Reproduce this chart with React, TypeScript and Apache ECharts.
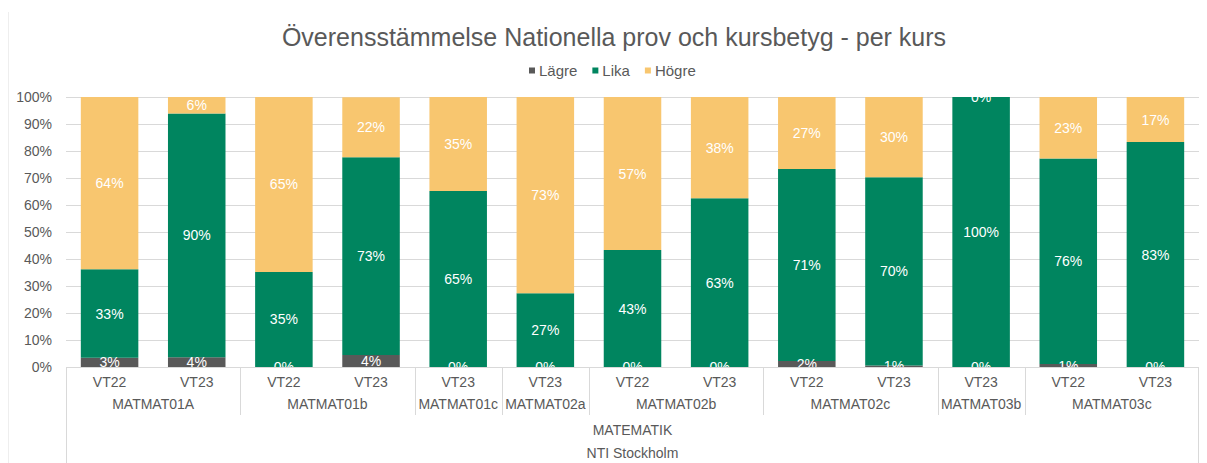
import React, { useEffect, useRef } from 'react';
import * as echarts from 'echarts';

const periods = ['VT22', 'VT23', 'VT22', 'VT23', 'VT23', 'VT23', 'VT22', 'VT23', 'VT22', 'VT23', 'VT23', 'VT22', 'VT23'];
const courses = ['MATMAT01A', 'MATMAT01A', 'MATMAT01b', 'MATMAT01b', 'MATMAT01c', 'MATMAT02a', 'MATMAT02b', 'MATMAT02b', 'MATMAT02c', 'MATMAT02c', 'MATMAT03b', 'MATMAT03c', 'MATMAT03c'];
const subjectLabel = 'MATEMATIK';
const schoolLabel = 'NTI Stockholm';
const titleText = 'Överensstämmelse Nationella prov och kursbetyg - per kurs';
const seriesNames = ['Lägre', 'Lika', 'Högre'];
const lagre = [3.4, 3.6, 0, 4.4, 0, 0, 0, 0, 2.2, 0.6, 0, 1.1, 0];
const lika = [32.8, 90.3, 35.2, 73.3, 65.2, 27.3, 43.3, 62.5, 71.1, 69.7, 100, 76.1, 83.3];
const hogre = [63.8, 6.1, 64.8, 22.2, 34.8, 72.7, 56.7, 37.5, 26.7, 29.7, 0, 22.8, 16.7];
const colors = ['#595959', '#00855f', '#f8c66f'];

const FONT = 'Liberation Sans';
const GRAY = '#595959';
const LINE = '#d9d9d9';

export default function App() {
  const ref = useRef<HTMLDivElement>(null);
  useEffect(() => {
    document.body.style.margin = '0';
    const chart = echarts.init(ref.current!, null, { renderer: 'svg' });
    const label = {
      show: true,
      position: 'inside',
      color: '#ffffff',
      fontSize: 14,
      fontFamily: FONT,
      formatter: (p: any) => Math.round(p.value) + '%',
    };
    const values = [lagre, lika, hogre];
    chart.setOption({
      animation: false,
      textStyle: { fontFamily: FONT },
      title: {
        text: titleText,
        left: 614,
        top: 24,
        padding: 0,
        textAlign: 'center',
        textStyle: { fontSize: 25, fontWeight: 'normal', color: GRAY, fontFamily: FONT },
      },
      legend: {
        data: seriesNames,
        left: 529,
        top: 63,
        padding: 0,
        icon: 'rect',
        itemWidth: 6,
        itemHeight: 6,
        itemGap: 15,
        textStyle: { fontSize: 15, color: GRAY, fontFamily: FONT, padding: [0, 0, 0, -1] },
      },
      grid: { left: 66, right: 8, top: 97, bottom: 96 },
      xAxis: {
        type: 'category',
        data: periods,
        axisLine: { show: false },
        axisTick: { show: false },
        axisLabel: { color: GRAY, fontSize: 14, margin: 8, interval: 0, fontFamily: FONT },
      },
      yAxis: {
        type: 'value',
        min: 0,
        max: 100,
        interval: 10,
        axisLine: { show: false },
        axisTick: { show: false },
        axisLabel: { formatter: '{value}%', color: GRAY, fontSize: 14, margin: 14, fontFamily: FONT },
        splitLine: { lineStyle: { color: LINE } },
      },
      series: seriesNames.map((name, i) => ({
        name,
        type: 'bar',
        stack: 'total',
        barWidth: '66%',
        data: values[i],
        itemStyle: { color: colors[i] },
        label,
      })),
    });

    const cx = (i: number) => chart.convertToPixel({ xAxisIndex: 0 }, i) as number;
    const yBase = chart.convertToPixel({ yAxisIndex: 0 }, 0) as number;
    const yTop = chart.convertToPixel({ yAxisIndex: 0 }, 100) as number;
    const w = cx(1) - cx(0);
    const leftX = cx(0) - w / 2;
    const rightX = cx(periods.length - 1) + w / 2;
    const H = 463;
    const crisp = (v: number) => Math.round(v) + 0.5;
    const elements: any[] = [];
    elements.push({ type: 'rect', z: 100, shape: { x: leftX, y: yBase + 1, width: rightX - leftX, height: 7 }, style: { fill: '#ffffff' } });
    elements.push({ type: 'rect', z: 100, shape: { x: leftX, y: yTop - 10, width: rightX - leftX, height: 9 }, style: { fill: '#ffffff' } });
    elements.push({ type: 'line', z: 110, shape: { x1: 8.5, y1: 12, x2: 8.5, y2: H }, style: { stroke: '#eeeeee', lineWidth: 1 } });
    elements.push({ type: 'line', z: 110, shape: { x1: leftX, y1: crisp(yBase), x2: rightX, y2: crisp(yBase) }, style: { stroke: LINE, lineWidth: 1 } });
    elements.push({ type: 'line', z: 110, shape: { x1: crisp(leftX), y1: yBase, x2: crisp(leftX), y2: H }, style: { stroke: LINE, lineWidth: 1 } });
    elements.push({ type: 'line', z: 110, shape: { x1: crisp(rightX) - 1, y1: yBase, x2: crisp(rightX) - 1, y2: H }, style: { stroke: LINE, lineWidth: 1 } });
    let start = 0;
    for (let i = 1; i <= courses.length; i++) {
      if (i === courses.length || courses[i] !== courses[start]) {
        const gx0 = cx(start) - w / 2;
        const gx1 = cx(i - 1) + w / 2;
        elements.push({
          type: 'text',
          z: 110,
          x: (gx0 + gx1) / 2,
          y: yBase + 37,
          style: { text: courses[start], fill: GRAY, fontSize: 14, fontFamily: FONT, align: 'center', verticalAlign: 'middle' },
        });
        if (i < courses.length) {
          elements.push({ type: 'line', z: 110, shape: { x1: crisp(gx1), y1: yBase, x2: crisp(gx1), y2: yBase + 48 }, style: { stroke: LINE, lineWidth: 1 } });
        }
        start = i;
      }
    }
    elements.push({
      type: 'text', z: 110, x: (leftX + rightX) / 2, y: yBase + 63,
      style: { text: subjectLabel, fill: GRAY, fontSize: 14, fontFamily: FONT, align: 'center', verticalAlign: 'middle' },
    });
    elements.push({
      type: 'text', z: 110, x: (leftX + rightX) / 2, y: yBase + 86,
      style: { text: schoolLabel, fill: GRAY, fontSize: 14, fontFamily: FONT, align: 'center', verticalAlign: 'middle' },
    });
    chart.setOption({ graphic: { elements } });
    return () => chart.dispose();
  }, []);
  return <div ref={ref} style={{ width: 1207, height: 463 }} />;
}
